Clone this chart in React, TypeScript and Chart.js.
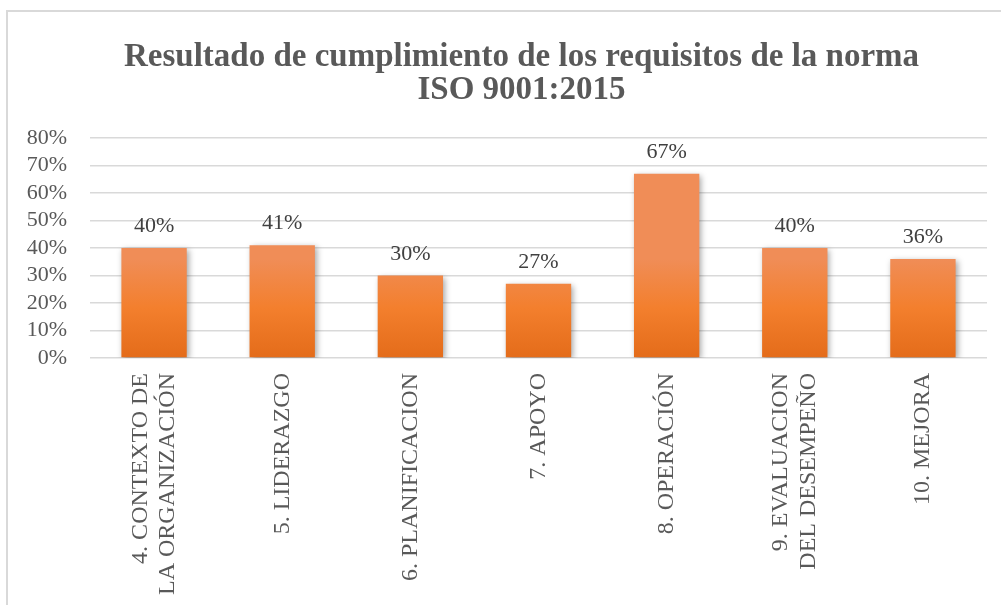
import React, { useEffect, useRef } from "react";
import { Chart, registerables } from "chart.js";

Chart.register(...registerables);

const TITLE_LINES = ["Resultado de cumplimiento de los requisitos de la norma", "ISO 9001:2015"];
const CATEGORIES: (string | string[])[] = [
  ["4. CONTEXTO DE", "LA ORGANIZACIÓN"],
  "5. LIDERAZGO",
  "6. PLANIFICACION",
  "7. APOYO",
  "8. OPERACIÓN",
  ["9. EVALUACION", "DEL DESEMPEÑO"],
  "10. MEJORA",
];
const VALUES = [40, 41, 30, 27, 67, 40, 36];
const Y_MAX = 80;
const Y_STEP = 10;

const FONT = '"Liberation Serif", "Times New Roman", serif';
const CANVAS_W = 1001;
const CANVAS_H = 605;
const X_FONT_SIZE = 24;
const X_LINE_HEIGHT = 1.15;
const Y_FONT_SIZE = 22;

const barStylePlugin = {
  id: "barStyle",
  afterLayout(chart: any) {
    // center the title over the visible frame
    if (chart.titleBlock) chart.titleBlock.left = 56;
  },
  beforeDraw(chart: any) {
    // center multi-line rotated x labels on their ticks
    const xs = chart.scales.x;
    const items = xs.getLabelItems(chart.chartArea);
    const lh = X_FONT_SIZE * X_LINE_HEIGHT;
    items.forEach((it: any) => {
      if (Array.isArray(it.label) && !it._shifted) {
        it.options.translation[0] -= ((it.label.length - 1) * lh) / 2;
        it._shifted = true;
      }
    });
  },
  beforeDatasetsDraw(chart: any) {
    const ctx = chart.ctx;
    const meta = chart.getDatasetMeta(0);
    meta.data.forEach((el: any) => {
      const top = Math.min(el.y, el.base);
      const bottom = Math.max(el.y, el.base);
      const g = ctx.createLinearGradient(0, top, 0, bottom);
      g.addColorStop(0, "#f08d57");
      g.addColorStop(0.5, "#f37f2d");
      g.addColorStop(1, "#e46c1a");
      el.options.backgroundColor = g;
    });
  },
  beforeDatasetDraw(chart: any) {
    const ctx = chart.ctx;
    ctx.save();
    ctx.shadowColor = "rgba(0,0,0,0.35)";
    ctx.shadowBlur = 6;
    ctx.shadowOffsetX = 2;
    ctx.shadowOffsetY = 2;
  },
  afterDatasetDraw(chart: any) {
    chart.ctx.restore();
  },
  afterDatasetsDraw(chart: any) {
    const ctx = chart.ctx;
    const meta = chart.getDatasetMeta(0);
    ctx.save();
    ctx.font = `22px ${FONT}`;
    ctx.fillStyle = "#404040";
    ctx.textAlign = "center";
    ctx.textBaseline = "alphabetic";
    meta.data.forEach((el: any, i: number) => {
      ctx.fillText(`${VALUES[i]}%`, el.x, el.y - 16);
    });
    ctx.restore();
  },
};

export default function App() {
  const ref = useRef<HTMLCanvasElement>(null);
  useEffect(() => {
    if (!ref.current) return;
    const chart = new Chart(ref.current, {
      type: "bar",
      data: {
        labels: CATEGORIES,
        datasets: [
          {
            data: VALUES,
            backgroundColor: "#f37f2d",
            borderWidth: 0,
            barPercentage: 0.51,
            categoryPercentage: 1,
          },
        ],
      },
      options: {
        responsive: false,
        animation: false,
        devicePixelRatio: 1,
        layout: { padding: { left: 0, right: 14, top: 0, bottom: 0 } },
        plugins: {
          legend: { display: false },
          tooltip: { enabled: false },
          title: {
            display: true,
            text: TITLE_LINES,
            color: "#595959",
            font: { family: FONT, size: 33, weight: "bold", lineHeight: 1.0 },
            padding: { top: 41, bottom: 31 },
          },
        },
        scales: {
          x: {
            grid: { display: false },
            border: { display: false },
            ticks: {
              color: "#595959",
              font: { family: FONT, size: X_FONT_SIZE, lineHeight: X_LINE_HEIGHT },
              minRotation: 90,
              maxRotation: 90,
              padding: 7,
              autoSkip: false,
            },
            afterFit(scale: any) {
              scale.height = 247;
            },
          },
          y: {
            min: 0,
            max: Y_MAX,
            grid: { color: "#d9d9d9", lineWidth: 1.5, drawTicks: false },
            border: { display: false },
            ticks: {
              stepSize: Y_STEP,
              autoSkip: false,
              color: "#595959",
              font: { family: FONT, size: Y_FONT_SIZE },
              padding: 23,
              callback: (v: any) => `${v}%`,
            },
            afterFit(scale: any) {
              scale.width = 90;
            },
          },
        },
      },
      plugins: [barStylePlugin],
    });
    return () => chart.destroy();
  }, []);

  return (
    <div
      style={{
        position: "fixed",
        left: 0,
        top: 0,
        width: 1001,
        height: 605,
        background: "#fff",
        overflow: "hidden",
      }}
    >
      <div
        style={{
          position: "absolute",
          left: 6,
          top: 10,
          width: 1100,
          height: 700,
          border: "2px solid #d9d9d9",
        }}
      />
      <canvas
        ref={ref}
        width={CANVAS_W}
        height={CANVAS_H}
        style={{ position: "absolute", left: 0, top: 0, width: CANVAS_W, height: CANVAS_H }}
      />
    </div>
  );
}
